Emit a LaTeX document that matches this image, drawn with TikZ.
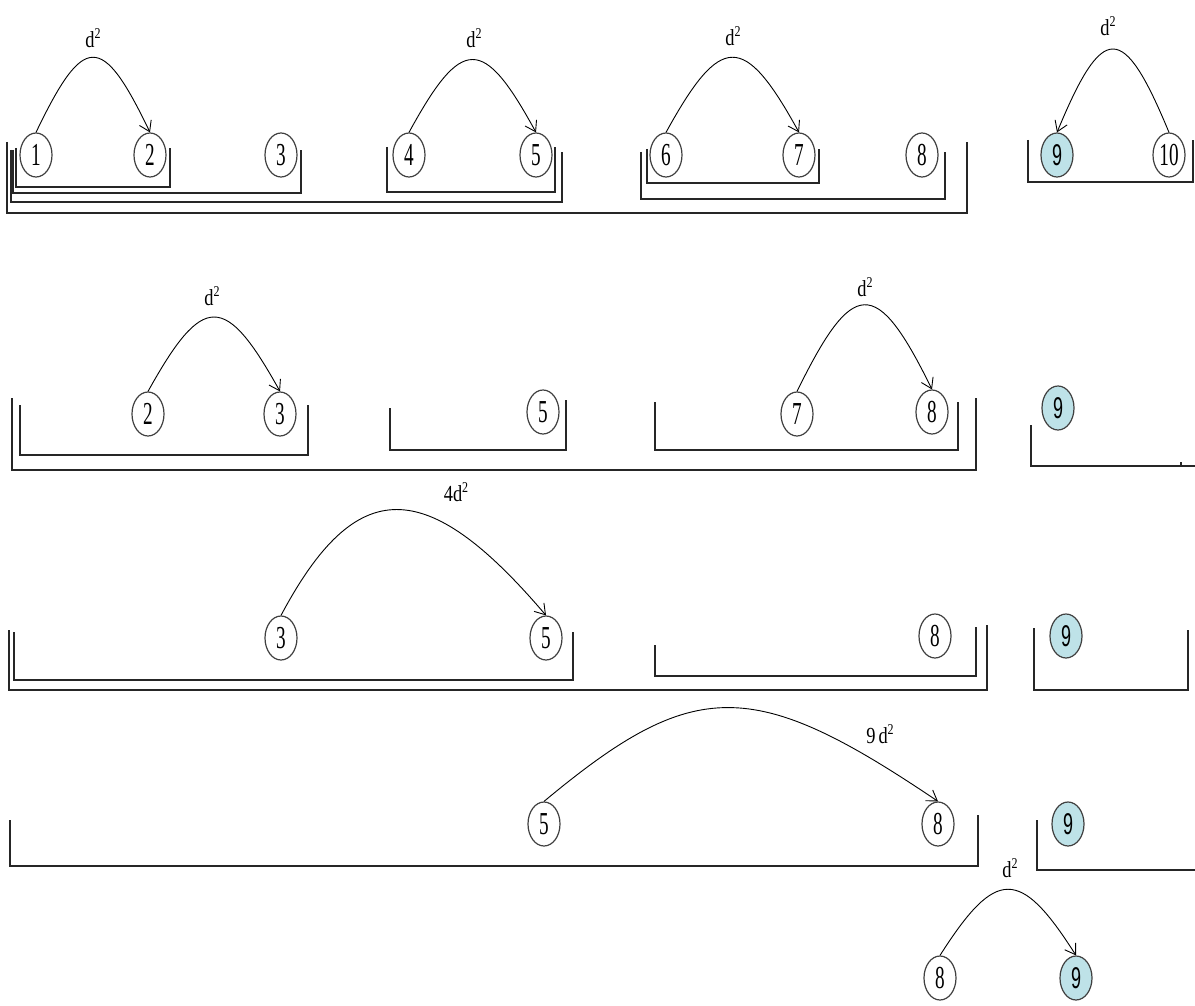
\documentclass[tikz,border=0pt]{standalone}
\usepackage{fontspec}
\usepackage{graphicx}
\setmainfont{Liberation Serif}
\newfontfamily\sansdig{Liberation Sans}
\usetikzlibrary{shapes.geometric,arrows.meta}
\newcommand\dg[1]{\scalebox{0.6}[1]{#1}}
\newcommand\sqr{\raisebox{0.42em}{\fontsize{15}{15}\selectfont 2}}
\newcommand\dlab[1]{\scalebox{0.8}[1]{#1}}
\definecolor{vfill}{RGB}{190,226,232}
\tikzset{
  vtx/.style={ellipse, draw=black!75, line width=1.2pt, minimum width=32pt, minimum height=44pt, inner sep=0pt, font=\fontsize{32}{32}\selectfont},
  vtxf/.style={vtx, fill=vfill, font=\fontsize{30}{30}\sansdig},
  brk/.style={draw=black!85, line width=1.4pt},
  arc/.style={draw=black, line width=0.9pt, -{Straight Barb[length=10pt,width=13pt]}},
  lab/.style={font=\fontsize{23}{23}\selectfont, inner sep=0pt}
}
\begin{document}
\begin{tikzpicture}[x=1pt,y=-1pt]
\useasboundingbox (0,0) rectangle (1195,1006);
% ---------- row 1 ----------
\node[vtx] (a1) at (36,155) {\dg{1}};
\node[vtx] (a2) at (150,155) {\dg{2}};
\node[vtx] (a3) at (281,155) {\dg{3}};
\node[vtx] (a4) at (409,155) {\dg{4}};
\node[vtx] (a5) at (536,155) {\dg{5}};
\node[vtx] (a6) at (666,155) {\dg{6}};
\node[vtx] (a7) at (799,155) {\dg{7}};
\node[vtx] (a8) at (922,155) {\dg{8}};
\node[vtxf] (a9) at (1057,155) {\dg{9}};
\node[vtx] (a10) at (1169,155) {\dg{10}};
\draw[arc] (a1.north) .. controls +(48,-100) and +(-48,-100) .. (a2.north);
\draw[arc] (a4.north) .. controls +(53,-97) and +(-53,-97) .. (a5.north);
\draw[arc] (a6.north) .. controls +(55,-100) and +(-55,-100) .. (a7.north);
\draw[arc] (a10.north) .. controls +(-46,-111) and +(46,-111) .. (a9.north);
\node[lab] (l1) at (93,38) {\dlab{d\sqr}};
\node[lab] (l2) at (474,38) {\dlab{d\sqr}};
\node[lab] (l3) at (733,36) {\dlab{d\sqr}};
\node[lab] (l4) at (1108,26) {\dlab{d\sqr}};
\draw[brk] (16,148) |- (170,187) -- (170,148);
\draw[brk] (13,150) |- (301,193) -- (301,150);
\draw[brk] (11,150) |- (562,202) -- (562,152);
\draw[brk] (7,142) |- (967,213) -- (967,142);
\draw[brk] (387,147) |- (555,192) -- (555,147);
\draw[brk] (647,149) |- (819,183) -- (819,149);
\draw[brk] (641,152) |- (945,199) -- (945,152);
\draw[brk] (1028,140) |- (1193,182) -- (1193,140);
% ---------- row 2 ----------
\node[vtx] (b2) at (148,414) {\dg{2}};
\node[vtx] (b3) at (280,414) {\dg{3}};
\node[vtx] (b5) at (543,412) {\dg{5}};
\node[vtx] (b7) at (797,414) {\dg{7}};
\node[vtx] (b8) at (932,412) {\dg{8}};
\node[vtxf] (b9) at (1058,408) {\dg{9}};
\draw[arc] (b2.north) .. controls +(55,-99) and +(-55,-99) .. (b3.north);
\draw[arc] (b7.north) .. controls +(56,-114) and +(-56,-114) .. (b8.north);
\node[lab] (l5) at (212,296) {\dlab{d\sqr}};
\node[lab] (l6) at (865,287) {\dlab{d\sqr}};
\draw[brk] (20,405) |- (308,455) -- (308,405);
\draw[brk] (12,398) |- (976,470) -- (976,398);
\draw[brk] (390,408) |- (566,450) -- (566,400);
\draw[brk] (655,402) |- (958,450) -- (958,402);
\draw[brk] (1031,425) |- (1195,466);
\draw[brk] (1181,462) -- (1181,466);
% ---------- row 3 ----------
\node[vtx] (c3) at (281,638) {\dg{3}};
\node[vtx] (c5) at (546,638) {\dg{5}};
\node[vtx] (c8) at (935,636) {\dg{8}};
\node[vtxf] (c9) at (1066,636) {\dg{9}};
\draw[arc] (c3.north) .. controls +(75,-141) and +(-120,-141) .. (c5.north);
\node[lab] (l7) at (456,492) {\dlab{4d\sqr}};
\draw[brk] (14,632) |- (573,680) -- (573,632);
\draw[brk] (9,630) |- (987,690) -- (987,625);
\draw[brk] (655,645) |- (976,676) -- (976,627);
\draw[brk] (1034,628) |- (1188,690) -- (1188,630);
% ---------- row 4 ----------
\node[vtx] (d5) at (544,824) {\dg{5}};
\node[vtx] (d8) at (938,824) {\dg{8}};
\node[vtxf] (d9) at (1068,824) {\dg{9}};
\draw[arc] (d5.north) .. controls +(150,-125) and +(-185,-125) .. (d8.north);
\node[lab] (l8) at (880,734) {\dlab{9\,d\sqr}};
\draw[brk] (10,820) |- (978,866) -- (978,815);
\draw[brk] (1037,820) |- (1195,870);
% ---------- row 5 ----------
\node[vtx] (e8) at (940,978) {\dg{8}};
\node[vtxf] (e9) at (1076,978) {\dg{9}};
\draw[arc] (e8.north) .. controls +(56,-88) and +(-56,-88) .. (e9.north);
\node[lab] (l9) at (1010,868) {\dlab{d\sqr}};
\end{tikzpicture}
\end{document}
